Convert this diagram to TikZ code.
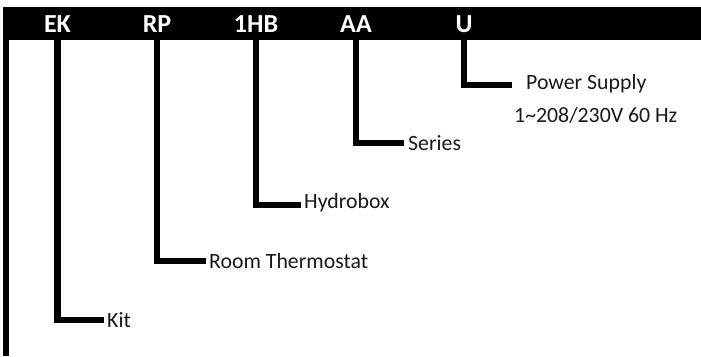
\documentclass[tikz,border=0pt]{standalone}
\usepackage{fontspec}
\setmainfont{Carlito}
\begin{document}
\begin{tikzpicture}[x=1pt,y=-1pt,
  code/.style={text=white,font=\fontsize{26}{28}\selectfont\bfseries,inner sep=0pt,anchor=base},
  lbl/.style={text=black!90,font=\fontsize{21.8}{24}\selectfont,inner sep=0pt,anchor=west},
  conn/.style={draw=black,line width=6.5pt,line join=miter,line cap=butt}]
\useasboundingbox (0,0) rectangle (701,356);
\node[fill=black,minimum width=698pt,minimum height=33pt,inner sep=0pt,anchor=north west] (bar) at (3,7) {};
\node[code] (ek) at (57.5,32) {EK};
\node[code] (rp) at (157,32) {RP};
\node[code] (hb) at (256,32) {1HB};
\node[code] (aa) at (356,32) {AA};
\node[code] (u) at (464,32) {U};
\coordinate (lt) at (6,40);
\coordinate (lb) at (6,356);
\draw[conn] (lt) -- (lb);
\node[lbl] (kit) at (107,320) {Kit};
\node[lbl] (room) at (209,261) {Room Thermostat};
\node[lbl] (hydro) at (304,203) {Hydrobox};
\node[lbl] (ser) at (408,143) {Series};
\node[lbl] (pow) at (526,84) {Power Supply};
\node[lbl,anchor=base west] (volt) at (514,122) {1\textasciitilde208/230V 60 Hz};
\coordinate (ekt) at (ek |- bar.south);
\coordinate (rpt) at (rp |- bar.south);
\coordinate (hbt) at (hb |- bar.south);
\coordinate (aat) at (aa |- bar.south);
\coordinate (ut) at (u |- bar.south);
\coordinate (eke) at (104,320);
\coordinate (rpe) at (206,261);
\coordinate (hbe) at (301,205);
\coordinate (aae) at (404,143);
\coordinate (ue) at (512,85);
\draw[conn] (ekt) |- (eke);
\draw[conn] (rpt) |- (rpe);
\draw[conn] (hbt) |- (hbe);
\draw[conn] (aat) |- (aae);
\draw[conn] (ut) |- (ue);
\end{tikzpicture}
\end{document}
